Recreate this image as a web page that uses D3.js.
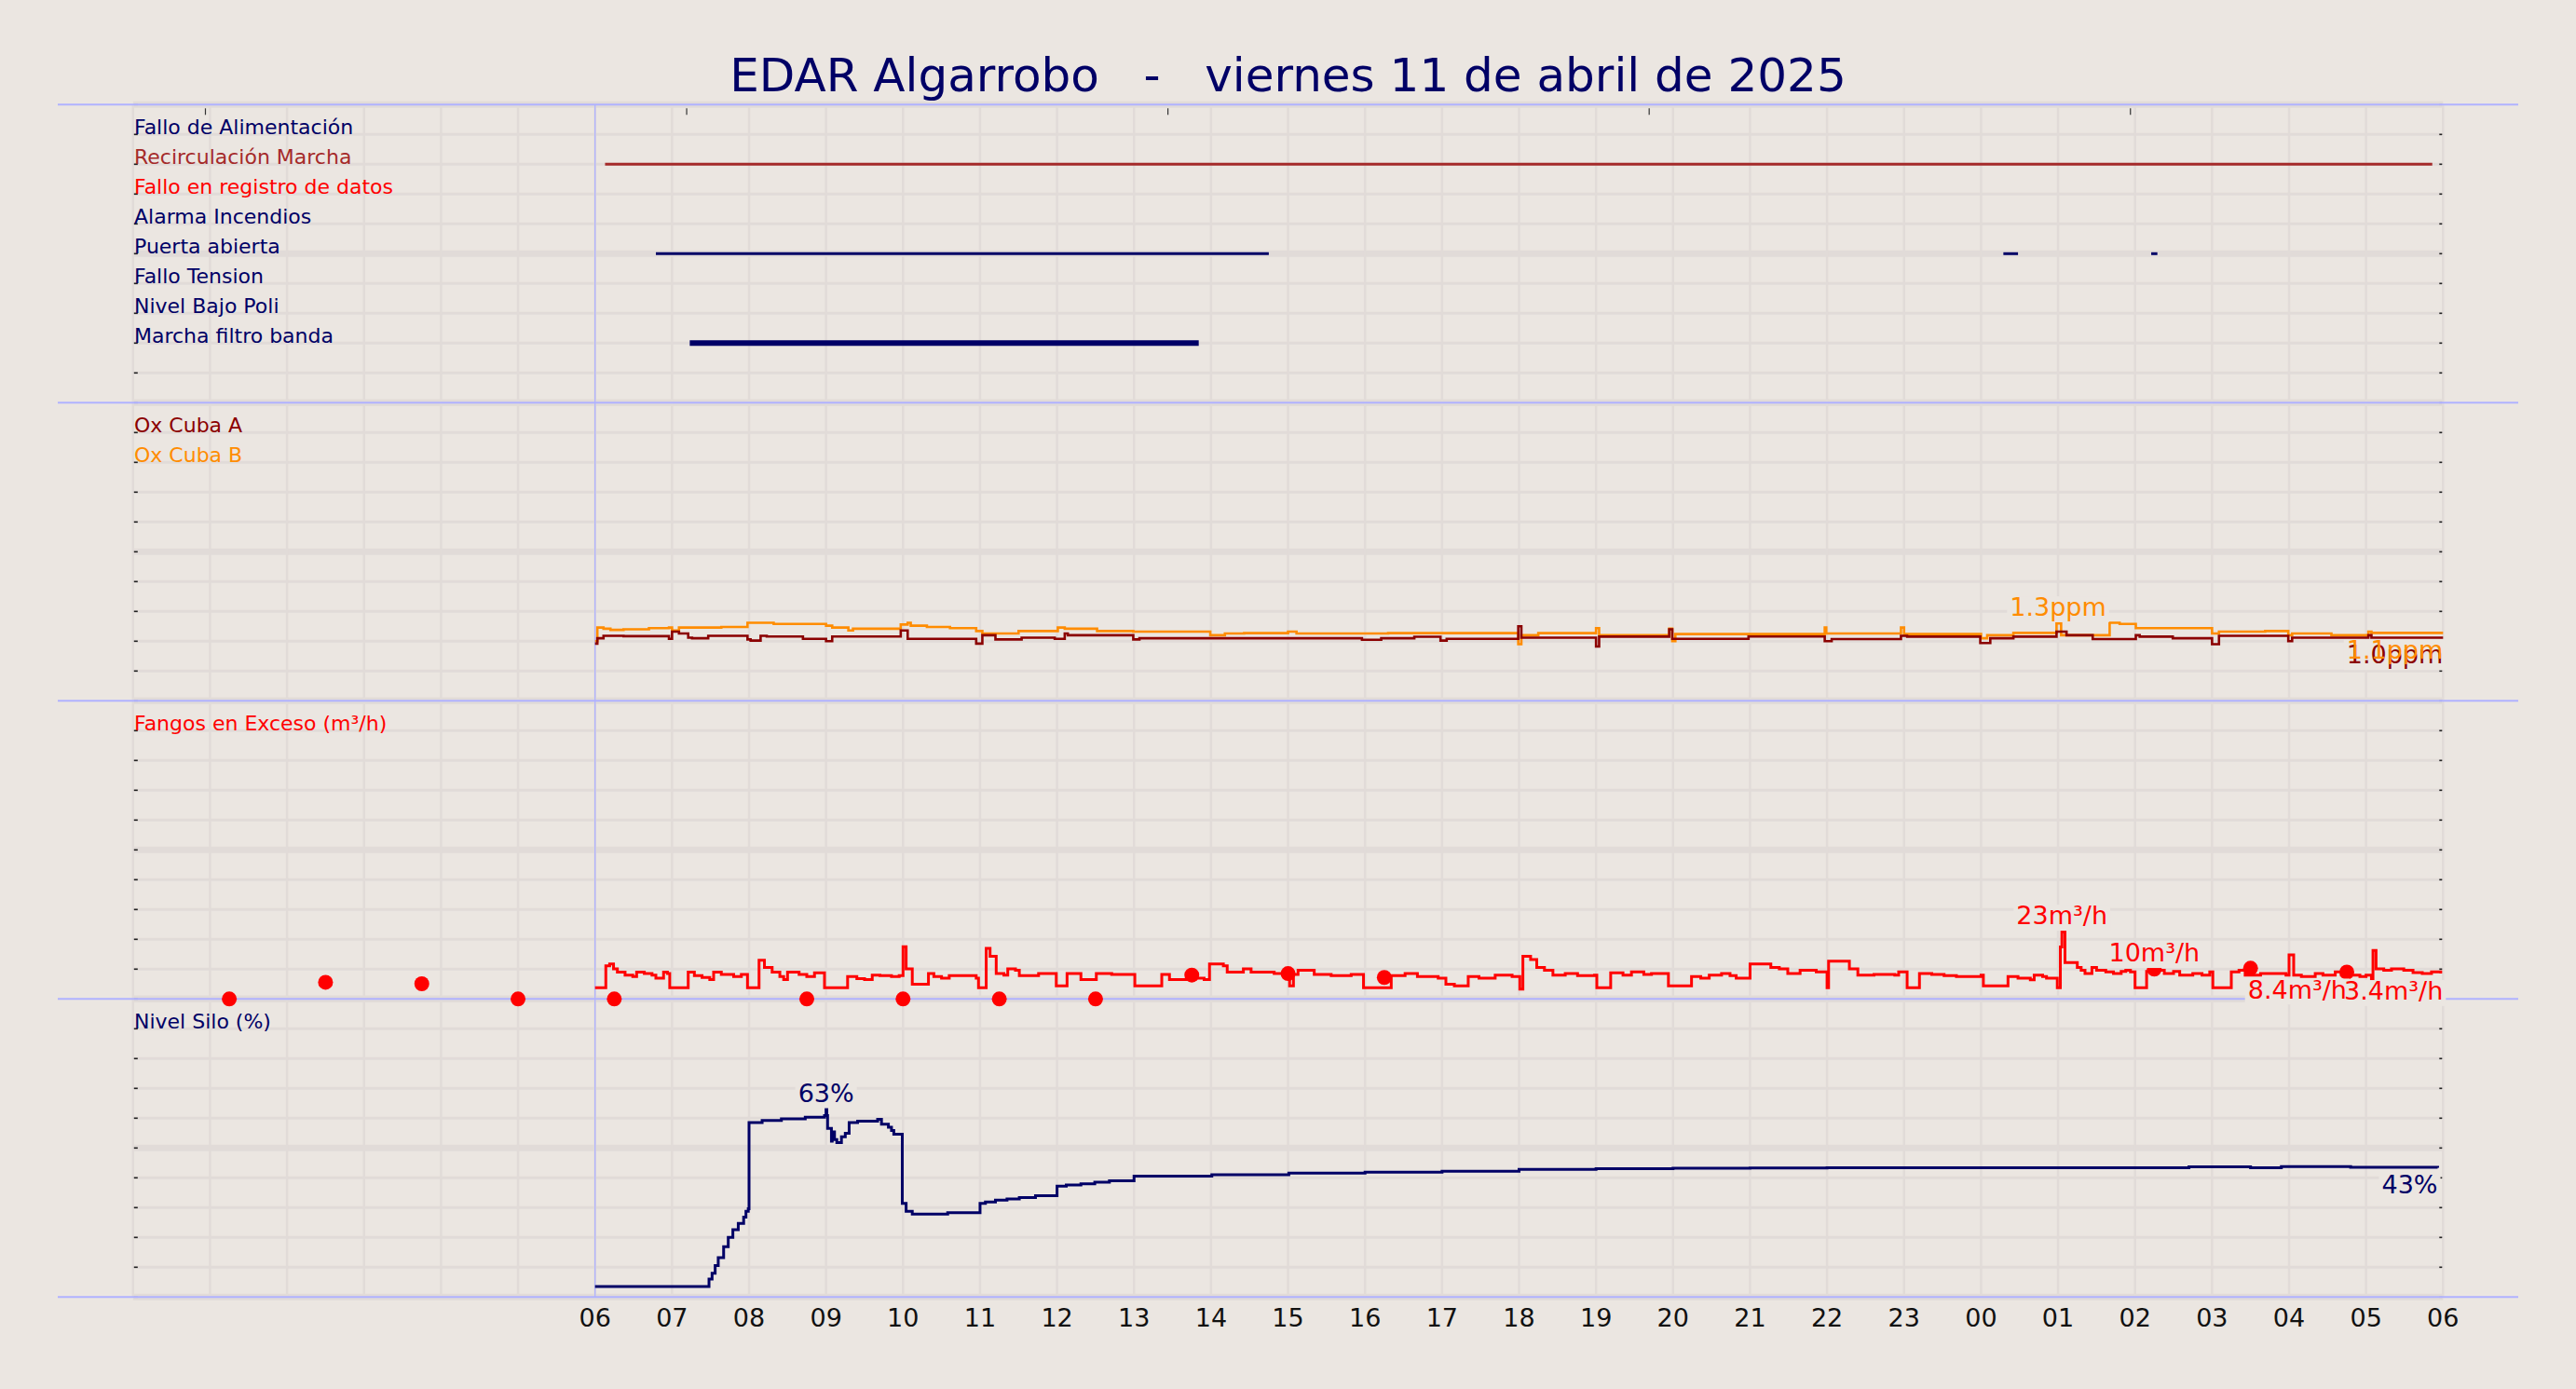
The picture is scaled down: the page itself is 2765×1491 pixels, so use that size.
<!DOCTYPE html>
<html><head><meta charset="utf-8">
<script src="https://cdn.jsdelivr.net/npm/d3@7"></script>
<style>
html,body{margin:0;padding:0;background:#ebe6e1;}
svg{display:block;font-family:"DejaVu Sans",sans-serif;}
</style></head><body>
<svg id="chart"></svg>
<script>
// ---------------- DATA ----------------
const titleText = "EDAR Algarrobo   -   viernes 11 de abril de 2025";

const tickHours  = [6,7,8,9,10,11,12,13,14,15,16,17,18,19,20,21,22,23,24,25,26,27,28,29,30];
const tickLabels = ["06","07","08","09","10","11","12","13","14","15","16","17","18","19","20","21","22","23","00","01","02","03","04","05","06"];
const topTickHours = [0.94, 7.19, 13.44, 19.69, 25.94];

const digitalLabels = ["Fallo de Alimentación","Recirculación Marcha","Fallo en registro de datos","Alarma Incendios","Puerta abierta","Fallo Tension","Nivel Bajo Poli","Marcha filtro banda"];
const digitalColors = ["#000066","#a52a2a","#ff0000","#000066","#000066","#000066","#000066","#000066"];
const digitalSegments = [
  [],
  [[6.13,29.86]],
  [],
  [],
  [[6.79,14.75],[24.29,24.48],[26.21,26.29]],
  [],
  [],
  [[7.23,13.84]]
];

const oxNames = ["Ox Cuba A","Ox Cuba B"];
const oxColors = ["#8b0000","#ff8c00"];
const oxCubaB = [[6.0,1.0],[6.03,1.23],[6.11,1.21],[6.2,1.19],[6.37,1.2],[6.7,1.22],[6.96,1.23],[7.0,1.18],[7.09,1.23],[7.64,1.24],[7.98,1.31],[8.32,1.29],[9.0,1.26],[9.08,1.23],[9.29,1.18],[9.35,1.21],[9.97,1.28],[10.06,1.31],[10.1,1.26],[10.31,1.24],[10.61,1.22],[10.95,1.17],[11.03,1.13],[11.5,1.17],[12.01,1.23],[12.1,1.21],[12.52,1.17],[12.99,1.16],[13.99,1.10],[14.18,1.13],[14.43,1.135],[15.0,1.16],[15.11,1.13],[16.3,1.135],[17.99,0.95],[18.03,1.10],[18.25,1.135],[19.0,1.22],[19.04,1.10],[19.95,1.21],[19.99,1.0],[20.03,1.12],[21.97,1.23],[21.99,1.13],[22.96,1.23],[23.0,1.12],[24.0,1.05],[24.08,1.10],[24.42,1.14],[24.98,1.3],[25.04,1.10],[25.67,1.31],[25.8,1.29],[26.01,1.22],[27.0,1.13],[27.09,1.16],[27.69,1.17],[27.99,1.10],[28.04,1.13],[28.55,1.10],[29.03,1.16],[29.07,1.14],[30.0,1.14]];
const oxCubaA = [[6.0,0.96],[6.03,1.05],[6.11,1.09],[6.37,1.085],[6.96,1.04],[7.0,1.16],[7.09,1.13],[7.21,1.06],[7.26,1.05],[7.47,1.09],[7.98,1.03],[8.02,1.01],[8.15,1.09],[8.23,1.08],[8.7,1.04],[9.0,1.0],[9.08,1.08],[9.97,1.18],[10.06,1.04],[10.95,0.96],[11.03,1.10],[11.2,1.03],[11.54,1.06],[11.97,1.04],[12.1,1.13],[12.14,1.10],[12.99,1.03],[13.07,1.05],[15.96,1.025],[16.21,1.05],[16.64,1.075],[16.98,1.01],[17.06,1.04],[17.99,1.25],[18.03,1.06],[19.0,0.91],[19.04,1.077],[19.95,1.2],[19.99,1.04],[20.98,1.08],[21.97,1.0],[22.06,1.035],[22.96,1.09],[23.04,1.077],[23.99,0.97],[24.12,1.05],[24.42,1.077],[24.98,1.16],[25.11,1.10],[25.45,1.035],[26.01,1.10],[26.06,1.077],[26.49,1.05],[27.0,0.95],[27.09,1.09],[27.99,1.0],[28.04,1.06],[29.03,1.10],[29.07,1.06],[30.0,1.06]];
const oxAnnotations = [
  {h:25.0, v:1.3,  text:"1.3ppm", color:"#ff8c00", kind:"max"},
  {h:30.0, v:1.06, text:"1.0ppm", color:"#8b0000", kind:"last"},
  {h:30.0, v:1.14, text:"1.1ppm", color:"#ff8c00", kind:"last"}
];

const fangosName = "Fangos en Exceso (m³/h)";
const fangosLine = [[6.0,3.8],[6.14,11.1],[6.19,11.7],[6.24,10.1],[6.29,9.0],[6.39,8.0],[6.49,7.5],[6.54,9.0],[6.64,8.5],[6.74,8.0],[6.79,7.0],[6.89,9.0],[6.94,8.5],[6.97,3.8],
[7.21,9.0],[7.29,7.8],[7.39,7.2],[7.49,6.5],[7.54,9.0],[7.64,8.2],[7.80,7.5],[7.90,8.2],[7.98,3.8],
[8.13,13.0],[8.20,10.6],[8.30,9.0],[8.40,7.5],[8.45,6.5],[8.50,9.0],[8.65,8.2],[8.75,7.5],[8.85,8.8],[8.98,3.8],
[9.28,7.5],[9.40,6.8],[9.50,6.5],[9.60,8.0],[9.70,7.8],[9.85,7.5],[9.95,7.8],[10.0,17.5],[10.04,10.1],[10.12,4.9],
[10.33,8.5],[10.40,7.5],[10.50,7.0],[10.60,7.8],[10.80,7.8],[10.95,7.0],[10.98,3.8],
[11.08,17.0],[11.13,14.3],[11.21,8.5],[11.31,8.0],[11.36,10.1],[11.46,9.6],[11.51,7.8],[11.76,8.5],[11.99,4.4],
[12.13,8.5],[12.31,6.5],[12.51,8.5],[12.71,8.2],[13.01,4.4],
[13.36,8.2],[13.46,6.5],[13.71,7.0],[13.91,6.5],[13.98,11.7],[14.16,11.1],[14.21,9.0],[14.42,10.1],[14.52,9.0],[14.82,8.5],[14.97,9.8],[15.02,4.4],[15.07,8.2],
[15.13,9.6],[15.34,8.2],[15.56,7.8],[15.82,8.2],[15.98,3.8],[16.34,7.8],[16.52,8.5],[16.68,7.5],[16.95,7.0],[17.05,4.9],[17.16,4.4],[17.34,7.5],[17.48,7.0],[17.69,8.0],[17.91,7.5],[18.01,3.3],
[18.05,14.3],[18.15,13.2],[18.23,10.6],[18.33,9.6],[18.44,8.0],[18.6,8.5],[18.76,7.8],[18.98,8.0],[19.01,3.8],[19.19,8.8],[19.35,8.0],[19.46,9.05],[19.62,8.2],[19.72,8.5],[19.94,4.4],
[20.24,7.5],[20.36,7.0],[20.47,8.0],[20.63,8.5],[20.74,7.8],[20.82,7.0],[21.0,11.7],[21.27,10.6],[21.38,10.1],[21.49,8.5],[21.65,9.6],[21.86,9.05],[22.0,3.8],[22.02,12.7],[22.29,10.1],[22.4,8.0],[22.61,8.2],[22.88,8.0],[22.93,9.05],[23.04,3.8],
[23.2,8.5],[23.36,8.2],[23.52,7.8],[23.68,7.5],[24.0,8.0],[24.03,4.4],[24.35,7.5],[24.48,7.0],[24.64,6.45],[24.69,8.0],[24.8,7.5],[24.85,7.0],[24.99,3.8],
[25.03,17.4],[25.05,22.5],[25.09,12.2],[25.25,10.6],[25.3,9.6],[25.35,8.5],[25.44,10.6],[25.5,9.6],[25.62,9.05],[25.72,8.5],[25.82,9.2],[25.88,9.6],[25.94,9.05],[26.0,3.8],
[26.15,9.2],[26.26,9.6],[26.38,8.5],[26.5,9.2],[26.58,8.0],[26.75,8.5],[26.87,8.0],[26.97,9.05],[27.01,3.8],[27.25,9.05],[27.35,9.6],[27.43,8.0],[27.63,8.5],[27.96,8.0],[28.0,14.8],[28.06,8.0],[28.16,7.5],[28.34,8.5],[28.44,8.0],[28.6,9.05],[28.68,8.0],[28.92,7.5],[29.0,8.0],[29.07,3.8],
[29.09,16.3],[29.13,10.1],[29.23,9.6],[29.33,10.1],[29.49,9.6],[29.61,8.84],[29.73,8.5],[29.85,9.05],[29.97,8.5]];
const fangosDots = [[1.25,0],[2.5,5.6],[3.75,5.1],[5.0,0],[6.25,0],[8.75,0],[10.0,0],[11.25,0],[12.5,0],[13.75,8.0],[15.0,8.5],[16.25,7.2],[26.25,10],[27.5,10.3],[28.75,9.0]];
const fangosAnnotations = [
  {h:25.05, v:22.5, text:"23m³/h",  kind:"max"},
  {h:26.25, v:10,   text:"10m³/h",  kind:"max"},
  {h:30.0,  v:8.5,  text:"3.4m³/h", kind:"last"},
  {h:28.75, v:9.0,  text:"8.4m³/h", kind:"last"}
];

const siloName = "Nivel Silo (%)";
const siloLine = [[6.0,3.5],[7.48,6],[7.52,8.0],[7.56,10.6],[7.6,13.2],[7.67,16.9],[7.73,20],[7.79,22.6],[7.86,24.7],[7.93,26.8],[7.96,28.8],[7.99,29.6],[8.0,58.5],[8.17,59.2],[8.42,59.8],[8.73,60.3],[8.98,60.9],[9.0,63],[9.01,60.9],[9.02,56.6],[9.07,52.3],[9.08,55.4],[9.11,52.8],[9.14,51.8],[9.2,53.8],[9.25,54.9],[9.3,58.5],[9.41,59.0],[9.67,59.6],[9.72,58.0],[9.81,57.0],[9.85,55.9],[9.88,54.6],[9.99,31.4],[10.04,28.8],[10.12,27.8],[10.58,28.3],[11.0,31.4],[11.07,31.9],[11.2,32.5],[11.35,32.9],[11.51,33.4],[11.72,34.0],[12.0,37.2],[12.12,37.6],[12.31,38.0],[12.49,38.5],[12.68,39.0],[13.0,40.6],[14.01,41.0],[15.01,41.6],[16,41.9],[17,42.2],[18,42.8],[19,43.1],[20,43.2],[21,43.3],[22,43.4],[26.7,43.7],[27.5,43.4],[27.9,43.8],[28.8,43.5],[29.93,43.4]];
const siloAnnotations = [
  {h:9.0,   v:63,   text:"63%", kind:"max"},
  {h:29.93, v:43.4, text:"43%", kind:"last"}
];

// ---------------- LAYOUT / STYLE ----------------
const W = 2765, H = 1491;
const BG = "#ebe6e1", GRID = "#e1dbd8", BLUE = "#b0b2ff", NAVY = "#000066";
const svg = d3.select("#chart").attr("width", W).attr("height", H);
svg.append("rect").attr("width", W).attr("height", H).attr("fill", BG);

const x = d3.scaleLinear().domain([0, 30]).range([142.8, 2622.3]);
const top0 = 112.3, pH = 320;
const panelTop = i => top0 + pH * i;
const y1 = d3.scaleLinear().domain([0, 10]).range([panelTop(1), panelTop(0)]);
const y2 = d3.scaleLinear().domain([0, 5]).range([panelTop(2), panelTop(1)]);
const y3 = d3.scaleLinear().domain([0, 100]).range([panelTop(3), panelTop(2)]);
const y4 = d3.scaleLinear().domain([0, 100]).range([panelTop(4), panelTop(3)]);
const scales = [y1, y2, y3, y4];

// grid
const gGrid = svg.append("g");
scales.forEach(ys => {
  const [d0, d1] = ys.domain();
  const lv = d3.range(0, 11).map(k => d0 + (d1 - d0) * k / 10);
  gGrid.selectAll(null).data(lv).join("line")
    .attr("x1", x(0)).attr("x2", x(30))
    .attr("y1", d => ys(d)).attr("y2", d => ys(d))
    .attr("stroke", GRID)
    .attr("stroke-width", (d, k) => (k === 0 || k === 5 || k === 10) ? 7 : 3);
});
gGrid.selectAll(null).data(d3.range(0, 31)).join("line")
  .attr("x1", d => x(d)).attr("x2", d => x(d))
  .attr("y1", panelTop(0)).attr("y2", panelTop(4))
  .attr("stroke", GRID).attr("stroke-width", 2.5);

// small ticks left/right
const gTicks = svg.append("g");
scales.forEach(ys => {
  const [d0, d1] = ys.domain();
  const lv = d3.range(0, 11).map(k => d0 + (d1 - d0) * k / 10);
  [[x(0) + 1, x(0) + 5], [x(30) - 4, x(30) - 1]].forEach(([a, b]) => {
    gTicks.selectAll(null).data(lv).join("line")
      .attr("x1", a).attr("x2", b)
      .attr("y1", d => ys(d)).attr("y2", d => ys(d))
      .attr("stroke", (d, k) => (k === 0 || k === 10) ? "#a8a8b8" : "#222")
      .attr("stroke-width", 1.6);
  });
});
gTicks.selectAll(null).data(topTickHours).join("line")
  .attr("x1", d => x(d)).attr("x2", d => x(d))
  .attr("y1", panelTop(0) + 4).attr("y2", panelTop(0) + 11)
  .attr("stroke", "#333").attr("stroke-width", 1.2);

// blue panel lines
const gBlue = svg.append("g");
gBlue.selectAll(null).data(d3.range(0, 5)).join("line")
  .attr("x1", 62).attr("x2", 2703)
  .attr("y1", d => panelTop(d)).attr("y2", d => panelTop(d))
  .attr("stroke", BLUE).attr("stroke-width", 2);
gBlue.append("line")
  .attr("x1", x(6)).attr("x2", x(6))
  .attr("y1", panelTop(0)).attr("y2", panelTop(4))
  .attr("stroke", BLUE).attr("stroke-width", 1.3);

// title
svg.append("text").attr("x", W / 2).attr("y", 98)
  .attr("text-anchor", "middle").attr("font-size", 50)
  .attr("fill", NAVY).style("white-space", "pre")
  .text(titleText);

// x axis labels
svg.append("g").selectAll(null).data(tickHours).join("text")
  .attr("x", d => x(d)).attr("y", 1424)
  .attr("text-anchor", "middle").attr("font-size", 27).attr("fill", "#111")
  .text((d, i) => tickLabels[i]);

// series labels
const lblX = 144, lblFs = 22;
const gLbl = svg.append("g").attr("font-size", lblFs);
gLbl.selectAll(null).data(digitalLabels).join("text")
  .attr("x", lblX).attr("y", (d, i) => y1(9 - i))
  .attr("fill", (d, i) => digitalColors[i]).text(d => d);
gLbl.selectAll(null).data(oxNames).join("text")
  .attr("x", lblX).attr("y", (d, i) => y2(4.5 - 0.5 * i))
  .attr("fill", (d, i) => oxColors[i]).text(d => d);
gLbl.append("text").attr("x", lblX).attr("y", y3(90)).attr("fill", "#ff0000").text(fangosName);
gLbl.append("text").attr("x", lblX).attr("y", y4(90)).attr("fill", NAVY).text(siloName);

// digital bars
const barWidth = [3, 3, 3, 3, 3, 3, 3, 6];
const gDig = svg.append("g");
digitalSegments.forEach((segs, i) => {
  gDig.selectAll(null).data(segs).join("line")
    .attr("x1", d => x(d[0])).attr("x2", d => x(d[1]))
    .attr("y1", y1(9 - i)).attr("y2", y1(9 - i))
    .attr("stroke", digitalColors[i]).attr("stroke-width", barWidth[i]);
});

// lines
function stepLine(data, ys, color, w) {
  const gen = d3.line().x(d => x(d[0])).y(d => ys(d[1])).curve(d3.curveStepAfter);
  svg.append("path").datum(data).attr("d", gen)
    .attr("fill", "none").attr("stroke", color).attr("stroke-width", w)
    .attr("stroke-linejoin", "miter");
}
stepLine(oxCubaB, y2, oxColors[1], 2.6);
stepLine(oxCubaA, y2, oxColors[0], 2.6);
stepLine(fangosLine, y3, "#ff0000", 3);
stepLine(siloLine, y4, NAVY, 3);

svg.append("g").selectAll(null).data(fangosDots).join("circle")
  .attr("cx", d => x(d[0])).attr("cy", d => y3(d[1])).attr("r", 8)
  .attr("fill", "#ff0000");

// annotations: boxes first (tight to glyph height), then texts
function annotate(list, ys, defColor) {
  const fs = 27;
  const gBox = svg.append("g"), gTxt = svg.append("g");
  list.forEach(a => {
    const by = a.kind === "max" ? ys(a.v) - 8 : ys(a.v) + 28;
    const t = gTxt.append("text")
      .attr("x", x(a.h)).attr("y", by)
      .attr("text-anchor", a.kind === "max" ? "middle" : "end")
      .attr("font-size", fs).attr("fill", a.color || defColor)
      .text(a.text);
    const b = t.node().getBBox();
    gBox.append("rect").attr("x", b.x - 3).attr("y", by - 0.78 * fs)
      .attr("width", b.width + 6).attr("height", 1.03 * fs)
      .attr("fill", BG);
  });
}
annotate(oxAnnotations, y2, "#ff8c00");
annotate(fangosAnnotations, y3, "#ff0000");
annotate(siloAnnotations, y4, NAVY);
</script>
</body></html>
